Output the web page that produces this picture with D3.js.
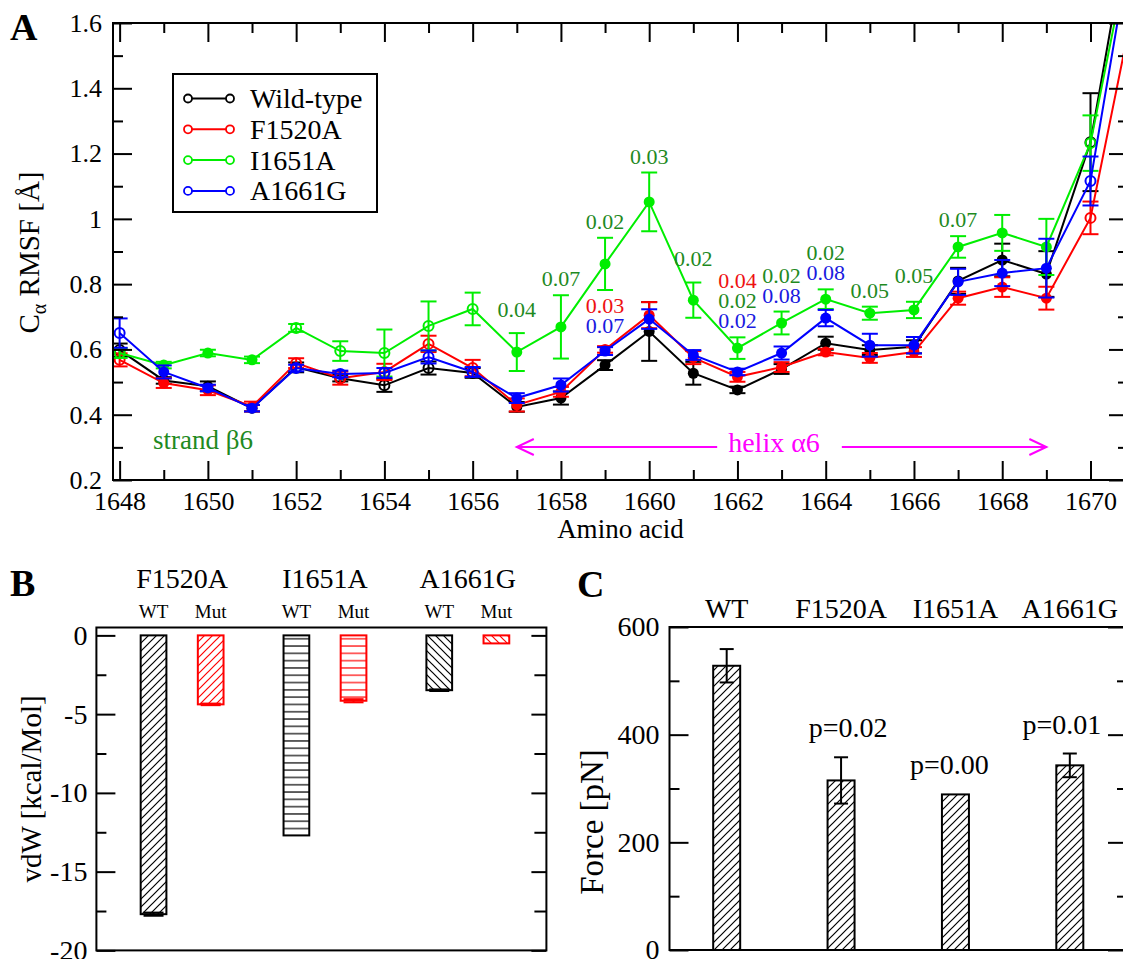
<!DOCTYPE html>
<html lang="en">
<head>
<meta charset="utf-8">
<script src="https://cdn.jsdelivr.net/npm/d3@7"></script>
<style>
  body { margin: 0; background: #fff; }
  svg, svg text, svg tspan { font-family: "Liberation Serif", serif !important; }
</style>
</head>
<body>
<svg id="fig" width="1123" height="959" font-family="Liberation Serif"></svg>
<script>
// ---------- Panel A: C-alpha RMSF per residue ----------
const residues = [1648,1649,1650,1651,1652,1653,1654,1655,1656,1657,1658,1659,
                  1660,1661,1662,1663,1664,1665,1666,1667,1668,1669,1670,1671];
const rmsfWT    = [0.598,0.505,0.487,0.420,0.545,0.512,0.490,0.543,0.528,0.424,0.451,0.552,
                   0.655,0.527,0.476,0.540,0.619,0.598,0.608,0.810,0.874,0.831,1.235,2.00];
const errWT     = [0.020,0.010,0.015,0.010,0.015,0.010,0.020,0.020,0.015,0.015,0.020,0.015,
                   0.090,0.035,0.010,0.015,0.020,0.015,0.020,0.040,0.050,0.070,0.150,0];
const rmsfF1520A = [0.568,0.497,0.475,0.425,0.558,0.512,0.531,0.617,0.543,0.430,0.470,0.600,
                    0.705,0.575,0.516,0.546,0.592,0.574,0.592,0.757,0.791,0.757,1.003,1.67];
const errF1520A  = [0.020,0.015,0.015,0.015,0.015,0.020,0.025,0.025,0.025,0.020,0.015,0.010,
                    0.040,0.020,0.015,0.015,0.010,0.015,0.015,0.020,0.030,0.035,0.050,0];
const rmsfI1651A = [0.589,0.552,0.589,0.568,0.666,0.595,0.589,0.672,0.724,0.592,0.669,0.862,
                    1.052,0.751,0.604,0.681,0.754,0.711,0.721,0.914,0.957,0.914,1.232,1.91];
const errI1651A  = [0.015,0.010,0.010,0.010,0.012,0.030,0.072,0.075,0.050,0.058,0.097,0.080,
                    0.090,0.054,0.033,0.035,0.030,0.020,0.025,0.033,0.055,0.086,0.085,0];
const rmsfA1661G = [0.650,0.531,0.482,0.420,0.543,0.525,0.528,0.577,0.531,0.451,0.491,0.595,
                    0.693,0.583,0.531,0.589,0.696,0.613,0.613,0.807,0.834,0.849,1.116,1.91];
const errA1661G  = [0.045,0.020,0.010,0.010,0.010,0.010,0.015,0.020,0.015,0.015,0.020,0.012,
                    0.030,0.015,0.010,0.020,0.025,0.035,0.025,0.040,0.040,0.090,0.075,0];
// residues whose difference is significant (drawn with filled markers)
const significant = [false,true,true,true,false,false,false,false,false,true,true,true,
                     true,true,true,true,true,true,true,true,true,true,false,false];

const xTicksA = [1648,1650,1652,1654,1656,1658,1660,1662,1664,1666,1668,1670];
const xMinorA = [1649,1651,1653,1655,1657,1659,1661,1663,1665,1667,1669];
const yTicksA = [0.2,0.4,0.6,0.8,1,1.2,1.4,1.6];
const yTickLabelsA = ["0.2","0.4","0.6","0.8","1","1.2","1.4","1.6"];
const yMinorA = [0.3,0.5,0.7,0.9,1.1,1.3,1.5];

// p-values printed next to residues (text, series colour), stacked bottom-up
const pAnnotations = [
  {res:1657, over:["I1651A"], lines:[["0.04","I1651A"]]},
  {res:1658, over:["I1651A"], lines:[["0.07","I1651A"]]},
  {res:1659, over:["I1651A"], lines:[["0.02","I1651A"]]},
  {res:1659, over:["F1520A","A1661G"], lines:[["0.03","F1520A"],["0.07","A1661G"]]},
  {res:1660, over:["I1651A"], lines:[["0.03","I1651A"]]},
  {res:1661, over:["I1651A"], lines:[["0.02","I1651A"]]},
  {res:1662, over:["I1651A"], lines:[["0.04","F1520A"],["0.02","I1651A"],["0.02","A1661G"]]},
  {res:1663, over:["I1651A"], lines:[["0.02","I1651A"],["0.08","A1661G"]]},
  {res:1664, over:["I1651A"], lines:[["0.02","I1651A"],["0.08","A1661G"]]},
  {res:1665, over:["I1651A"], lines:[["0.05","I1651A"]]},
  {res:1666, over:["I1651A"], lines:[["0.05","I1651A"]]},
  {res:1667, over:["I1651A"], lines:[["0.07","I1651A"]]}
];

// ---------- Panel B: van der Waals interaction energy ----------
const vdwGroups = ["F1520A","I1651A","A1661G"];
const vdwWT     = [-17.7, -12.7, -3.48];
const vdwWTErr  = [0.10, 0.0, 0.05];
const vdwMut    = [-4.38, -4.15, -0.51];
const vdwMutErr = [0.05, 0.10, 0.0];
const yTicksB = [0,-5,-10,-15,-20];
const yMinorB = [-2.5,-7.5,-12.5,-17.5];

// ---------- Panel C: rupture force ----------
const forceLabels = ["WT","F1520A","I1651A","A1661G"];
const forceMean   = [528, 315, 289, 343];
const forceErr    = [31, 43, 0, 22];
const forcePText  = ["", "p=0.02", "p=0.00", "p=0.01"];
const yTicksC = [0,200,400,600];
const yMinorC = [100,300,500];

// ================= drawing =================
const FONT = "Liberation Serif";
const svg = d3.select("#fig");
const defs = svg.append("defs");

const colors = {"Wild-type":"#000000","F1520A":"#ff0000","I1651A":"#00ee00","A1661G":"#0000ff"};
const textColors = {"F1520A":"#ee1111","I1651A":"#1f8a1f","A1661G":"#1a1ae0"};

function axisPart(g, axisFn, scale, values, labels, size, transform, fontSize, pad) {
  const ax = axisFn(scale).tickValues(values).tickSizeInner(size).tickSizeOuter(0).tickPadding(pad || 0);
  ax.tickFormat(labels ? ((d, i) => labels[i]) : "");
  const sel = g.append("g").attr("transform", transform).call(ax);
  sel.attr("font-family", FONT).attr("font-size", fontSize || 26);
  sel.select(".domain").remove();
  sel.selectAll("line").attr("stroke", "#000").attr("stroke-width", 2);
  sel.selectAll("text").attr("font-size", fontSize || 26).attr("font-family", FONT).attr("fill", "#000");
  return sel;
}
function frameRect(g, b) {
  g.append("rect").attr("x", b.l).attr("y", b.t).attr("width", b.r - b.l).attr("height", b.b - b.t)
    .attr("fill", "none").attr("stroke", "#000").attr("stroke-width", 2);
}
function panelLetter(txt, x, y) {
  svg.append("text").attr("x", x).attr("y", y).attr("font-size", 38).attr("font-weight", "bold")
    .attr("font-family", FONT).text(txt);
}
function label(g, x, y, size, txt) {
  return g.append("text").attr("x", x).attr("y", y).attr("font-size", size).attr("font-family", FONT).text(txt);
}

// ---------------- Panel A ----------------
const A = {l:113, r:1128, t:23, b:480};
const xA = d3.scaleLinear().domain([1647.85, 1670.85]).range([A.l, A.r]);
const yA = d3.scaleLinear().domain([0.2, 1.6]).range([A.b, A.t]);
const gA = svg.append("g");

defs.append("clipPath").attr("id", "clipA").append("rect")
  .attr("x", A.l).attr("y", A.t).attr("width", A.r - A.l).attr("height", A.b - A.t);

const seriesA = [
  {name:"Wild-type", vals:rmsfWT, err:errWT},
  {name:"F1520A", vals:rmsfF1520A, err:errF1520A},
  {name:"I1651A", vals:rmsfI1651A, err:errI1651A},
  {name:"A1661G", vals:rmsfA1661G, err:errA1661G}
];
const plotA = gA.append("g").attr("clip-path", "url(#clipA)");
const lineGen = d3.line().x((d, i) => xA(residues[i])).y(d => yA(d));
seriesA.forEach(s => {
  const c = colors[s.name];
  const g = plotA.append("g");
  g.append("path").attr("d", lineGen(s.vals)).attr("fill", "none").attr("stroke", c).attr("stroke-width", 2);
  s.vals.forEach((v, i) => {
    const e = s.err[i];
    if (e <= 0) return;
    const x = xA(residues[i]);
    g.append("line").attr("x1", x).attr("x2", x).attr("y1", yA(v - e)).attr("y2", yA(v + e))
      .attr("stroke", c).attr("stroke-width", 2);
    [v - e, v + e].forEach(w => g.append("line").attr("x1", x - 8).attr("x2", x + 8)
      .attr("y1", yA(w)).attr("y2", yA(w)).attr("stroke", c).attr("stroke-width", 2));
  });
  s.vals.forEach((v, i) => {
    const x = xA(residues[i]);
    if (significant[i]) {
      g.append("circle").attr("cx", x).attr("cy", yA(v)).attr("r", 5.5).attr("fill", c);
    } else {
      g.append("circle").attr("cx", x).attr("cy", yA(v)).attr("r", 5).attr("fill", "none")
        .attr("stroke", c).attr("stroke-width", 2);
    }
  });
});

// axes (ticks point inward on all four sides)
axisPart(gA, d3.axisBottom, xA, xTicksA, xTicksA.map(String), -19, `translate(0,${A.b})`, 26, 12);
axisPart(gA, d3.axisBottom, xA, xMinorA, null, -10, `translate(0,${A.b})`);
axisPart(gA, d3.axisTop, xA, xTicksA, null, -19, `translate(0,${A.t})`);
axisPart(gA, d3.axisTop, xA, xMinorA, null, -10, `translate(0,${A.t})`);
axisPart(gA, d3.axisLeft, yA, yTicksA, yTickLabelsA, -19, `translate(${A.l},0)`, 26, 11);
axisPart(gA, d3.axisLeft, yA, yMinorA, null, -10, `translate(${A.l},0)`);
axisPart(gA, d3.axisRight, yA, yTicksA, null, -19, `translate(${A.r},0)`);
axisPart(gA, d3.axisRight, yA, yMinorA, null, -10, `translate(${A.r},0)`);
frameRect(gA, A);

label(gA, (A.l + A.r) / 2, 538, 27, "Amino acid").attr("text-anchor", "middle");
const yLabA = gA.append("text").attr("transform", `translate(39,${(A.t + A.b) / 2 + 1}) rotate(-90)`)
  .attr("text-anchor", "middle").attr("font-size", 29).attr("font-family", FONT);
yLabA.append("tspan").text("C");
yLabA.append("tspan").attr("font-size", 20).attr("dy", 7).text("α");
yLabA.append("tspan").attr("dy", -7).text(" RMSF [Å]");

// secondary structure notes
label(gA, 153, 449, 27, "strand β6").attr("fill", "#1f8a1f");
const arrowY = A.b - 33;
const helixText = label(gA, 774, 452, 28, "helix α6").attr("text-anchor", "middle").attr("fill", "#ff00ff");
const hw = helixText.node().getComputedTextLength();
const hx0 = 774 - hw / 2, hx1 = 774 + hw / 2;
const xs = xA(1657), xe = xA(1669);
gA.append("line").attr("x1", xs).attr("x2", hx0 - 11).attr("y1", arrowY).attr("y2", arrowY)
  .attr("stroke", "#ff00ff").attr("stroke-width", 2);
gA.append("line").attr("x1", hx1 + 22).attr("x2", xe).attr("y1", arrowY).attr("y2", arrowY)
  .attr("stroke", "#ff00ff").attr("stroke-width", 2);
gA.append("path").attr("d", `M${xs + 17},${arrowY - 8} L${xs},${arrowY} L${xs + 17},${arrowY + 8}`)
  .attr("fill", "none").attr("stroke", "#ff00ff").attr("stroke-width", 2);
gA.append("path").attr("d", `M${xe - 17},${arrowY - 8} L${xe},${arrowY} L${xe - 17},${arrowY + 8}`)
  .attr("fill", "none").attr("stroke", "#ff00ff").attr("stroke-width", 2);

// p-value annotations
const byName = Object.fromEntries(seriesA.map(s => [s.name, s]));
const labelLift = {1657: 7, 1661: 8, 1666: 10};
pAnnotations.forEach(a => {
  const i = residues.indexOf(a.res);
  const top = d3.max(a.over, n => byName[n].vals[i] + byName[n].err[i]);
  const base = yA(top) - 9 - (labelLift[a.res] || 0) - (a.over.length > 1 ? 4 : 0);
  const n = a.lines.length;
  a.lines.forEach((ln, k) => {
    label(gA, xA(a.res), base - (n - 1 - k) * 20, 22, ln[0])
      .attr("text-anchor", "middle").attr("fill", textColors[ln[1]]);
  });
});

// legend
const leg = gA.append("g");
leg.append("rect").attr("x", 173).attr("y", 74).attr("width", 204).attr("height", 138)
  .attr("fill", "#fff").attr("stroke", "#000").attr("stroke-width", 2);
seriesA.forEach((s, i) => {
  const cy = 98.5 + i * 30.8, c = colors[s.name];
  leg.append("line").attr("x1", 188).attr("x2", 230).attr("y1", cy).attr("y2", cy)
    .attr("stroke", c).attr("stroke-width", 2);
  [188, 230].forEach(cx => leg.append("circle").attr("cx", cx).attr("cy", cy).attr("r", 4)
    .attr("fill", "#fff").attr("stroke", c).attr("stroke-width", 1.8));
  label(leg, 250, cy + 9.5, 28, s.name);
});
panelLetter("A", 10, 40);

// ---------------- hatch patterns ----------------
function hatch(id, color, kind, step) {
  const p = defs.append("pattern").attr("id", id).attr("patternUnits", "userSpaceOnUse")
    .attr("width", step).attr("height", step);
  let d;
  if (kind === "diag") d = `M-2,2 L2,-2 M0,${step} L${step},0 M${step - 2},${step + 2} L${step + 2},${step - 2}`;
  else if (kind === "back") d = `M-2,${step - 2} L2,${step + 2} M0,0 L${step},${step} M${step - 2},-2 L${step + 2},2`;
  else d = `M0,${step / 2} L${step},${step / 2}`;
  p.append("path").attr("d", d).attr("stroke", color).attr("stroke-width", 1.2).attr("fill", "none");
}
["diag", "horiz", "back"].forEach(k => {
  hatch(`h-${k}-k`, "#000", k, k === "horiz" ? 7.3 : 8);
  hatch(`h-${k}-r`, "#ff0000", k, k === "horiz" ? 7.3 : 8);
});

// ---------------- Panel B ----------------
const B = {l:96.4, r:546.4, t:627.5, b:950.4};
const xB = d3.scaleLinear().domain([0.4, 3.55]).range([B.l, B.r]);
const yB = d3.scaleLinear().domain([-20, 0.5]).range([B.b, B.t]);
const gB = svg.append("g");
const hatchKinds = ["diag", "horiz", "back"];
const barWB = xB(0.18) - xB(0);

vdwGroups.forEach((grp, i) => {
  const gx = i + 1;
  [[vdwWT[i], vdwWTErr[i], -0.2, "#000", "k", "WT"],
   [vdwMut[i], vdwMutErr[i], 0.2, "#ff0000", "r", "Mut"]].forEach(([v, e, off, col, ck, lab]) => {
    const cx = xB(gx + off);
    gB.append("rect").attr("x", cx - barWB / 2).attr("y", yB(0)).attr("width", barWB)
      .attr("height", yB(v) - yB(0)).attr("fill", `url(#h-${hatchKinds[i]}-${ck})`)
      .attr("stroke", col).attr("stroke-width", 2);
    if (e > 0) {
      gB.append("line").attr("x1", cx).attr("x2", cx).attr("y1", yB(v - e)).attr("y2", yB(v + e))
        .attr("stroke", col).attr("stroke-width", 2);
      [v - e, v + e].forEach(w => gB.append("line").attr("x1", cx - 10).attr("x2", cx + 10)
        .attr("y1", yB(w)).attr("y2", yB(w)).attr("stroke", col).attr("stroke-width", 2));
    }
    label(gB, cx, 618, 19, lab).attr("text-anchor", "middle");
  });
  label(gB, xB(gx), 588, 28, grp).attr("text-anchor", "middle");
});

axisPart(gB, d3.axisLeft, yB, yTicksB, yTicksB.map(String), -19, `translate(${B.l},0)`, 28, 9);
axisPart(gB, d3.axisLeft, yB, yMinorB, null, -10, `translate(${B.l},0)`);
axisPart(gB, d3.axisRight, yB, yTicksB, null, -15, `translate(${B.r},0)`);
axisPart(gB, d3.axisRight, yB, yMinorB, null, -12, `translate(${B.r},0)`);
frameRect(gB, B);
gB.append("text").attr("transform", `translate(41,${(B.t + B.b) / 2}) rotate(-90)`)
  .attr("text-anchor", "middle").attr("font-size", 29).attr("font-family", FONT).text("vdW [kcal/Mol]");
panelLetter("B", 10, 596);

// ---------------- Panel C ----------------
const C = {l:669.5, r:1127, t:627, b:950};
const xC = d3.scaleLinear().domain([-0.5, 3.5]).range([C.l, C.r]);
const yC = d3.scaleLinear().domain([0, 600]).range([C.b, C.t]);
const gC = svg.append("g");
const barWC = xC(0.236) - xC(0);
const pShift = [0, 7, -6, -8];

forceLabels.forEach((lab, i) => {
  const cx = xC(i), v = forceMean[i], e = forceErr[i];
  gC.append("rect").attr("x", cx - barWC / 2).attr("y", yC(v)).attr("width", barWC)
    .attr("height", yC(0) - yC(v)).attr("fill", "url(#h-diag-k)").attr("stroke", "#000").attr("stroke-width", 2);
  if (e > 0) {
    gC.append("line").attr("x1", cx).attr("x2", cx).attr("y1", yC(v - e)).attr("y2", yC(v + e))
      .attr("stroke", "#000").attr("stroke-width", 2);
    [v - e, v + e].forEach(w => gC.append("line").attr("x1", cx - 7).attr("x2", cx + 7)
      .attr("y1", yC(w)).attr("y2", yC(w)).attr("stroke", "#000").attr("stroke-width", 2));
  }
  label(gC, cx, 618, 28, lab).attr("text-anchor", "middle");
  if (forcePText[i]) {
    label(gC, cx + pShift[i], yC(v + e) - 20, 28, forcePText[i]).attr("text-anchor", "middle");
  }
});

axisPart(gC, d3.axisLeft, yC, yTicksC, yTicksC.map(String), -19, `translate(${C.l},0)`, 28, 10);
axisPart(gC, d3.axisLeft, yC, yMinorC, null, -10, `translate(${C.l},0)`);
axisPart(gC, d3.axisRight, yC, yTicksC, null, -19, `translate(${C.r},0)`);
axisPart(gC, d3.axisRight, yC, yMinorC, null, -10, `translate(${C.r},0)`);
frameRect(gC, C);
gC.append("text").attr("transform", `translate(603,822) rotate(-90)`)
  .attr("text-anchor", "middle").attr("font-size", 33).attr("font-family", FONT).text("Force [pN]");
panelLetter("C", 577, 597);
</script>
</body>
</html>
